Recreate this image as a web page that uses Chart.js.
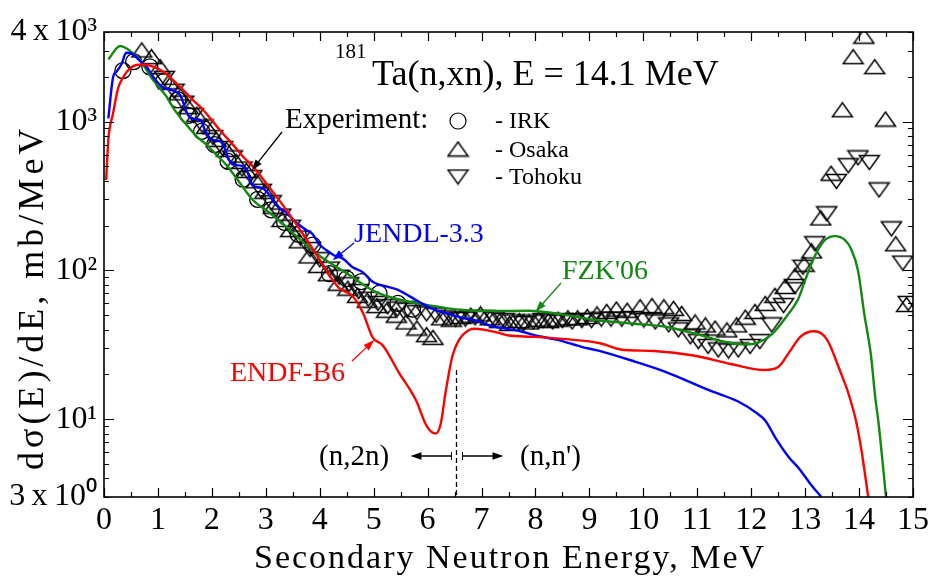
<!DOCTYPE html>
<html>
<head>
<meta charset="utf-8">
<title>181Ta(n,xn) neutron emission spectrum</title>
<script src="https://cdn.jsdelivr.net/npm/chart.js@4.4.0/dist/chart.umd.min.js"></script>
<style>
  html, body { margin: 0; padding: 0; background: #fff; }
  #wrap { width: 933px; height: 578px; }
</style>
</head>
<body>
<div id="wrap"><canvas id="spectrum" width="933" height="578"></canvas></div>
<script>
// Evaluations: secondary neutron energy (MeV) and dσ/dE (mb/MeV)
const endfE = [0.04,0.08,0.17,0.26,0.36,0.48,0.60,0.73,0.91,1.10,1.28,1.47,1.65,1.84,2.02,2.20,2.39,2.58,2.76,3.07,3.38,3.69,3.93,4.12,4.24,4.36,4.61,4.80,4.98,5.17,5.47,5.78,5.99,6.15,6.24,6.34,6.46,6.58,6.77,6.88,7.32,7.51,7.94,8.56,9.20,9.58,10.20,10.93,11.62,12.25,12.50,12.70,12.92,13.17,13.40,13.65,13.80,13.95,14.05,14.17];
const endfXS = [405,752,1145,1670,2000,2280,2400,2420,2340,2160,1900,1630,1396,1197,1000,835,700,580,500,360,255,175,129,100,86,76,67,52,35.5,31.3,20.5,13.5,8.9,8.0,9.2,15.7,26.6,34,39.8,40.5,38,36.5,35.8,34.5,32.4,29.4,28.7,26.8,23.5,21.4,22.4,28,36,39,34.5,21,15,9.5,6,3];

const jendlE = [0.08,0.17,0.23,0.33,0.41,0.51,0.67,0.79,0.91,1.04,1.13,1.25,1.41,1.47,1.53,1.59,1.71,1.81,1.87,1.93,2.02,2.15,2.24,2.30,2.36,2.45,2.58,2.67,2.73,2.82,2.95,3.07,3.19,3.38,3.56,3.75,3.87,3.99,4.12,4.27,4.43,4.61,4.80,4.98,5.23,5.45,5.84,6.15,6.30,6.65,6.95,7.20,7.38,7.72,8.00,8.43,8.87,9.15,9.84,10.41,11.25,11.75,12.10,12.26,12.45,12.69,12.90,13.09,13.30];
const jendlXS = [1050,2000,2160,2460,2900,2870,2550,2340,2000,1760,1670,1630,1510,1340,1160,1070,1040,1000,877,800,752,740,660,570,530,510,500,450,385,365,355,320,275,245,210,187,175,150,137,126,120,105,97,84,78,74,61.5,54,52,48,45.5,42,41,39,36.5,34,30.5,29,24.4,20.8,15.5,13.2,11,9.8,7.5,5.6,4.6,3.7,3.0];

const fzkE = [0.08,0.30,0.42,0.54,0.67,0.79,0.91,1.04,1.16,1.28,1.41,1.53,1.71,1.90,2.08,2.27,2.45,2.76,3.07,3.38,3.69,3.99,4.30,4.61,4.86,5.10,5.41,6.03,6.65,7.26,7.88,8.50,9.11,9.79,10.41,11.02,11.52,11.89,12.13,12.38,12.69,12.87,13.00,13.18,13.37,13.55,13.74,13.85,13.98,14.10,14.22,14.30,14.36,14.50];
const fzkXS = [2620,3220,3100,2870,2590,2220,1900,1670,1470,1240,1070,950,800,700,600,510,420,297,244,196,155,126,106,90,78,70,64.5,58.2,54.2,53.3,53.5,50.6,46.4,44,41.8,37.1,33.1,31.8,32.7,37.1,51,64,86,125,160,170,160,140,100,50,27,14,9.5,3];

// Measurements
const irkE = [0.35,0.55,0.85,1.10,1.37,1.56,1.81,2.05,2.30,2.58,2.85,3.10,3.35,3.60,3.87,4.18,4.50,4.77,5.10,5.45,5.72];
const irkXS = [2200,2530,2330,1850,1400,1100,860,700,540,410,300,255,210,175,148,95,88,84,70,60,55];

const osakaE = [0.70,0.88,1.04,1.20,1.38,1.56,1.72,1.90,2.08,2.27,2.45,2.64,2.82,2.98,3.14,3.30,3.46,3.62,3.80,3.98,4.16,4.34,4.52,4.70,4.88,5.06,5.24,5.42,5.60,5.80,5.98,6.10,6.26,6.44,6.62,6.80,6.98,7.16,7.34,7.52,7.70,7.88,8.06,8.24,8.42,8.60,8.78,8.96,9.14,9.32,9.50,9.70,9.94,10.16,10.38,10.56,10.71,10.96,11.15,11.33,11.55,11.73,11.89,12.07,12.26,12.44,12.63,12.81,12.98,13.12,13.29,13.48,13.69,13.89,14.09,14.29,14.49,14.68,14.88];
const osakaXS = [3030,2730,2340,1850,1560,1260,1120,930,760,650,540,470,400,340,270,220,188,158,125,108,95,82,76,68,63,58,54,50,45,41,37,35.5,48,47,49,50,51,48,46,44,46,45,47,46,47,48,48,49,51,53,55,54,57,58,57,55.6,51.4,45,43,41,39.8,43,48.5,53,60,68,78,92,110,135,225,450,1200,2730,3750,2340,1040,151,59];

const tohokuE = [1.12,1.30,1.48,1.66,1.84,2.02,2.20,2.38,2.56,2.74,2.92,3.10,3.28,3.46,3.64,3.82,4.00,4.18,4.36,4.54,4.72,4.90,5.08,5.26,5.44,5.62,5.80,5.98,6.16,6.34,6.52,6.70,6.88,7.06,7.24,7.42,7.60,7.78,7.96,8.14,8.32,8.50,8.68,8.86,9.04,9.22,9.40,9.60,9.79,10.01,10.22,10.47,10.65,10.87,11.02,11.20,11.39,11.58,11.76,11.98,12.16,12.38,12.60,12.81,12.96,13.18,13.40,13.58,13.80,13.98,14.19,14.37,14.60,14.81,14.91];
const tohokuXS = [1950,1600,1330,1100,920,780,660,570,480,420,340,285,232,195,165,138,118,102,90,80,72,64,60,57,55,54,52,51,50,48,47,47,48,48,47,46,45,44,45,46,45,46,45,46,46,47,47,47,47.5,46.4,45,43,39.8,35.8,33.2,30.8,29.2,28.7,29.2,30.8,33.2,43,58,78,105,151,240,396,505,570,530,347,190,112,60];

// Axis ticks
const yTickValues = [3, 10, 100, 1000, 4000];
const yTickLabels = ['3\u2009x\u200910\u2070', '10\u00b9', '10\u00b2', '10\u00b3', '4\u2009x\u200910\u00b3'];
const xTickValues = [0,1,2,3,4,5,6,7,8,9,10,11,12,13,14,15];

// Reaction threshold marker, arrow targets on the curves
const splitE = 6.52, splitTopXS = 21.4;

const serif = "'Liberation Serif', 'Times New Roman', serif";
const RED = '#ff0000', BLUE = '#0000ff', GREEN = '#128a12';

function pts(es, vs) { return es.map((e, i) => ({ x: e, y: vs[i] })); }

function triangleMark(up) {
  const c = document.createElement('canvas');
  c.width = 23; c.height = 17;
  const g = c.getContext('2d');
  g.strokeStyle = '#000';
  g.lineWidth = 1.45;
  g.beginPath();
  if (up) { g.moveTo(11.5, 1.5); g.lineTo(21.5, 15.5); g.lineTo(1.5, 15.5); }
  else { g.moveTo(1.5, 1.5); g.lineTo(21.5, 1.5); g.lineTo(11.5, 15.5); }
  g.closePath();
  g.stroke();
  return c;
}
const upMark = triangleMark(true);
const downMark = triangleMark(false);

function arrow(ctx, x1, y1, x2, y2, color) {
  const a = Math.atan2(y2 - y1, x2 - x1), L = 11, W = 3.8;
  ctx.strokeStyle = color; ctx.fillStyle = color; ctx.lineWidth = 1.3;
  ctx.beginPath();
  ctx.moveTo(x1, y1);
  ctx.lineTo(x2 - L * 0.8 * Math.cos(a), y2 - L * 0.8 * Math.sin(a));
  ctx.stroke();
  ctx.beginPath();
  ctx.moveTo(x2, y2);
  ctx.lineTo(x2 - L * Math.cos(a) + W * Math.sin(a), y2 - L * Math.sin(a) - W * Math.cos(a));
  ctx.lineTo(x2 - L * Math.cos(a) - W * Math.sin(a), y2 - L * Math.sin(a) + W * Math.cos(a));
  ctx.closePath();
  ctx.fill();
}

function spacedText(ctx, text, x, y, spacing) {
  ctx.letterSpacing = spacing + 'px';
  ctx.fillText(text, x, y);
  ctx.letterSpacing = '0px';
}

// Frame with inward ticks on all four sides
const framePlugin = {
  id: 'frame',
  afterDatasetsDraw(chart) {
    const { ctx, chartArea: a, scales: { x, y } } = chart;
    ctx.save();
    ctx.strokeStyle = '#000';
    ctx.lineWidth = 1.2;
    ctx.beginPath();
    for (let e = 0; e <= 15; e += 0.5) {
      const px = Math.round(x.getPixelForValue(e)) + 0.5;
      const len = e % 1 === 0 ? 9 : 5;
      ctx.moveTo(px, a.bottom); ctx.lineTo(px, a.bottom - len);
      ctx.moveTo(px, a.top); ctx.lineTo(px, a.top + len);
    }
    for (let d = 1; d <= 1000; d *= 10) {
      for (let m = 1; m <= 9; m++) {
        const v = m * d;
        if (v < 3 || v > 4000) continue;
        const py = Math.round(y.getPixelForValue(v)) + 0.5;
        const len = m === 1 ? 10 : 5;
        ctx.moveTo(a.left, py); ctx.lineTo(a.left + len, py);
        ctx.moveTo(a.right, py); ctx.lineTo(a.right - len, py);
      }
    }
    ctx.stroke();
    ctx.lineWidth = 1.6;
    ctx.strokeRect(a.left, a.top, a.right - a.left, a.bottom - a.top);
    ctx.restore();
  }
};

// Titles, legend and curve labels
const notesPlugin = {
  id: 'notes',
  afterDraw(chart) {
    const { ctx, scales: { x, y } } = chart;
    ctx.save();
    ctx.fillStyle = '#000';
    ctx.textBaseline = 'alphabetic';
    ctx.textAlign = 'left';

    // axis titles
    ctx.font = '34px ' + serif;
    spacedText(ctx, 'Secondary Neutron Energy, MeV', 254, 568, 2);
    ctx.save();
    ctx.translate(43, 470);
    ctx.rotate(-Math.PI / 2);
    ctx.font = '36px ' + serif;
    spacedText(ctx, 'd\u03c3(E)/dE, mb/MeV', 0, 0, 4);
    ctx.restore();

    // reaction title
    ctx.font = '21px ' + serif;
    ctx.fillText('181', 335, 58);
    ctx.font = '36px ' + serif;
    ctx.fillText('Ta(n,xn), E = 14.1 MeV', 372, 85);

    // experiment legend
    ctx.font = '29px ' + serif;
    ctx.fillText('Experiment:', 285, 128);
    arrow(ctx, 282, 132, x.getPixelForValue(2.74), y.getPixelForValue(470), '#000');
    ctx.font = '24px ' + serif;
    ctx.fillText('- IRK', 495, 128);
    ctx.fillText('- Osaka', 495, 157);
    ctx.fillText('- Tohoku', 495, 184);
    ctx.strokeStyle = '#000';
    ctx.lineWidth = 1.2;
    ctx.beginPath();
    ctx.arc(458, 121, 8, 0, Math.PI * 2);
    ctx.stroke();
    ctx.drawImage(upMark, 458 - 11.5, 149 - 8.5);
    ctx.drawImage(downMark, 458 - 11.5, 177 - 8.5);

    // evaluation labels
    ctx.font = '28px ' + serif;
    ctx.fillStyle = BLUE;
    ctx.fillText('JENDL-3.3', 354, 242);
    arrow(ctx, 354, 243, x.getPixelForValue(4.24), y.getPixelForValue(117), BLUE);
    ctx.fillStyle = GREEN;
    ctx.fillText("FZK'06", 562, 279);
    arrow(ctx, 561, 283, x.getPixelForValue(8.0), y.getPixelForValue(52.7), GREEN);
    ctx.fillStyle = RED;
    ctx.fillText('ENDF-B6', 230, 381);
    arrow(ctx, 352, 361, x.getPixelForValue(5.01), y.getPixelForValue(34), RED);

    // (n,2n) / (n,n') boundary
    const sx = Math.round(x.getPixelForValue(splitE)) + 0.5;
    ctx.strokeStyle = '#000';
    ctx.lineWidth = 1.3;
    ctx.setLineDash([5, 3]);
    ctx.beginPath();
    ctx.moveTo(sx, y.getPixelForValue(splitTopXS));
    ctx.lineTo(sx, y.getPixelForValue(3));
    ctx.stroke();
    ctx.setLineDash([]);
    const ay = 456;
    arrow(ctx, sx - 5, ay, sx - 46, ay, '#000');
    arrow(ctx, sx + 6, ay, sx + 47, ay, '#000');
    ctx.lineWidth = 1;
    ctx.beginPath();
    ctx.moveTo(sx - 5, ay - 4); ctx.lineTo(sx - 5, ay + 4);
    ctx.moveTo(sx + 6, ay - 4); ctx.lineTo(sx + 6, ay + 4);
    ctx.stroke();
    ctx.fillStyle = '#000';
    ctx.font = '29px ' + serif;
    ctx.fillText('(n,2n)', 319, 465);
    ctx.fillText("(n,n')", 520, 465);
    ctx.restore();
  }
};

const curve = (label, es, vs, color) => ({
  label, data: pts(es, vs), showLine: true, borderColor: color, borderWidth: 2.4,
  pointRadius: 0, cubicInterpolationMode: 'monotone', order: 0
});
const marks = (label, es, vs, style) => ({
  label, data: pts(es, vs), showLine: false, pointStyle: style,
  pointRadius: style === 'circle' ? 8 : 10, borderColor: '#000', borderWidth: 1.3,
  backgroundColor: 'rgba(0,0,0,0)', order: 1
});

new Chart(document.getElementById('spectrum'), {
  type: 'scatter',
  data: {
    datasets: [
      curve('ENDF-B6', endfE, endfXS, RED),
      curve('JENDL-3.3', jendlE, jendlXS, BLUE),
      curve("FZK'06", fzkE, fzkXS, GREEN),
      marks('IRK', irkE, irkXS, 'circle'),
      marks('Osaka', osakaE, osakaXS, upMark),
      marks('Tohoku', tohokuE, tohokuXS, downMark)
    ]
  },
  options: {
    responsive: false,
    animation: false,
    devicePixelRatio: 1,
    layout: { padding: { left: 0, right: 18, top: 32, bottom: 0 } },
    plugins: { legend: { display: false }, tooltip: { enabled: false } },
    scales: {
      x: {
        type: 'linear', min: 0, max: 15,
        grid: { display: false, drawTicks: false },
        border: { display: false },
        afterBuildTicks: (s) => { s.ticks = xTickValues.map(v => ({ value: v })); },
        afterFit: (s) => { s.height = 81; },
        ticks: { color: '#000', padding: 4, maxRotation: 0, autoSkip: false,
                 font: { family: serif, size: 32 }, callback: (v) => String(v) }
      },
      y: {
        type: 'logarithmic', min: 3, max: 4000,
        grid: { display: false, drawTicks: false },
        border: { display: false },
        afterBuildTicks: (s) => { s.ticks = yTickValues.map(v => ({ value: v })); },
        afterFit: (s) => { s.width = 104; },
        ticks: { color: '#000', padding: 7, autoSkip: false,
                 font: { family: serif, size: 32 },
                 callback: (v) => yTickLabels[yTickValues.indexOf(v)] }
      }
    }
  },
  plugins: [framePlugin, notesPlugin]
});
</script>
</body>
</html>
